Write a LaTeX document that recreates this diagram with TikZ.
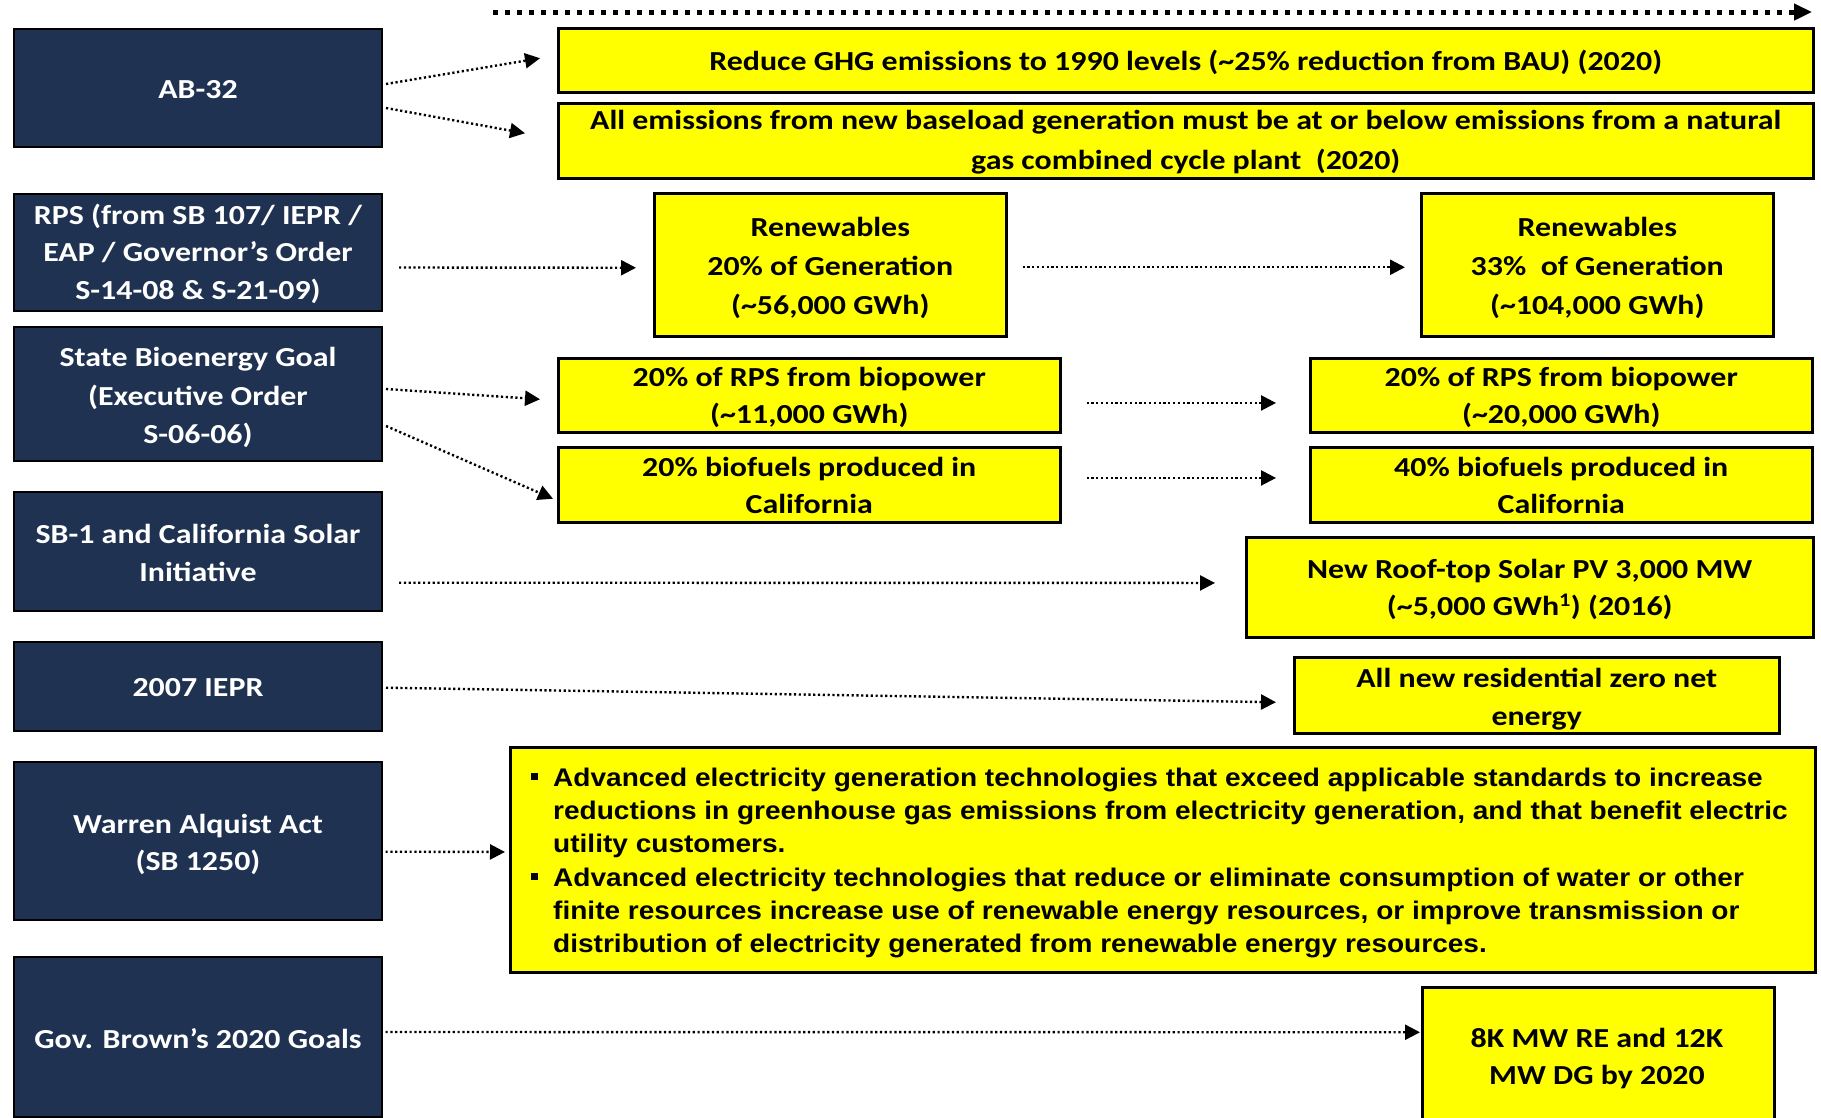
\documentclass[tikz,border=0pt]{standalone}
\usepackage{fontspec}
\usetikzlibrary{arrows.meta,calc}
\newfontfamily\calfont{Carlito}[FakeStretch=1.16]
\newfontfamily\arfont{Liberation Sans}[FakeStretch=1.1]
\definecolor{navy}{HTML}{1F3251}
\definecolor{ylw}{HTML}{FFFF00}
\newcommand\bulsq{\makebox[22pt][l]{\rule[6.5pt]{6.5pt}{6.5pt}}}
\tikzset{
  darkbox/.style={draw=black, line width=2pt, fill=navy, anchor=north west,
    inner sep=0pt, minimum width=368pt},
  ybox/.style={draw=black, line width=2.5pt, fill=ylw, anchor=north west, inner sep=0pt},
  dtext/.style={text=white, align=center, inner sep=0pt,
    font=\calfont\bfseries\fontsize{27.5}{37.7}\selectfont},
  ytext/.style={text=black, align=center, inner sep=0pt,
    font=\calfont\bfseries\fontsize{27.5}{38.5}\selectfont},
  arr/.style={line width=2.4pt, dash pattern=on 2.2pt off 2.6pt, -{Triangle[length=15pt,width=15pt]}},
  tlarr/.style={line width=5pt, dash pattern=on 5pt off 7pt, -{Triangle[length=18pt,width=16pt]}}
}
\begin{document}
\begin{tikzpicture}[x=1pt,y=-1pt]
\useasboundingbox (0,0) rectangle (1821,1117);
\clip (0,0) rectangle (1821,1117);
\fill[white] (0,0) rectangle (1821,1117);
% left column
\node[darkbox, minimum height=118pt] (ab) at (13,28) {};
\node[dtext] (abt) at ($(ab.center)+(0,1.2)$) {AB-32};
\node[darkbox, minimum height=117pt] (rps) at (13,193) {};
\node[dtext] (rpst) at ($(rps.center)+(0,1.2)$) {RPS (from SB 107/ IEPR /\\EAP / Governor’s Order\\S-14-08 \& S-21-09)};
\node[darkbox, minimum height=134pt] (bio) at (13,326) {};
\node[dtext, font=\calfont\bfseries\fontsize{27.5}{38.3}\selectfont] (biot) at ($(bio.center)+(0,3.5)$) {State Bioenergy Goal\\(Executive Order\\S-06-06)};
\node[darkbox, minimum height=119pt] (sb) at (13,491) {};
\node[dtext] (sbt) at ($(sb.center)+(0,1.7)$) {SB-1 and California Solar\\Initiative};
\node[darkbox, minimum height=89pt] (iepr) at (13,641) {};
\node[dtext] (ieprt) at ($(iepr.center)+(0,1.2)$) {2007 IEPR};
\node[darkbox, minimum height=158pt] (war) at (13,761) {};
\node[dtext] (wart) at ($(war.center)+(0,3.5)$) {Warren Alquist Act\\(SB 1250)};
\node[darkbox, minimum height=160pt] (gov) at (13,956) {};
\node[dtext] (govt) at ($(gov.center)+(0,1.2)$) {Gov. Brown’s 2020 Goals};
% yellow boxes
\node[ybox, minimum width=1255pt, minimum height=64pt] (ghg) at (557,27) {};
\node[ytext] (ghgt) at ($(ghg.center)+(0,2.3)$) {Reduce GHG emissions to 1990 levels (\textasciitilde25\% reduction from BAU) (2020)};
\node[ybox, minimum width=1255pt, minimum height=75pt] (base) at (557,102) {};
\node[ytext, font=\calfont\bfseries\fontsize{27.5}{40}\selectfont] (baset) at ($(base.center)+(0,1.7)$) {All emissions from new baseload generation must be at or below emissions from a natural\\gas combined cycle plant\ \ (2020)};
\node[ybox, minimum width=352pt, minimum height=143pt] (ren20) at (653,192) {};
\node[ytext, font=\calfont\bfseries\fontsize{27.5}{39}\selectfont] (ren20t) at ($(ren20.center)+(0,3.5)$) {Renewables\\20\% of Generation\\(\textasciitilde56,000 GWh)};
\node[ybox, minimum width=352pt, minimum height=143pt] (ren33) at (1420,192) {};
\node[ytext, font=\calfont\bfseries\fontsize{27.5}{39}\selectfont] (ren33t) at ($(ren33.center)+(0,3.5)$) {Renewables\\33\%\ \ of Generation\\(\textasciitilde104,000 GWh)};
\node[ybox, minimum width=502pt, minimum height=74pt] (bpa) at (557,357) {};
\node[ytext, font=\calfont\bfseries\fontsize{27.5}{37}\selectfont] (bpat) at ($(bpa.center)+(0,2.3)$) {20\% of RPS from biopower\\(\textasciitilde11,000 GWh)};
\node[ybox, minimum width=502pt, minimum height=74pt] (bpb) at (1309,357) {};
\node[ytext, font=\calfont\bfseries\fontsize{27.5}{37}\selectfont] (bpbt) at ($(bpb.center)+(0,2.3)$) {20\% of RPS from biopower\\(\textasciitilde20,000 GWh)};
\node[ybox, minimum width=502pt, minimum height=75pt] (bfa) at (557,446) {};
\node[ytext, font=\calfont\bfseries\fontsize{27.5}{37.5}\selectfont] (bfat) at ($(bfa.center)+(0,0.6)$) {20\% biofuels produced in\\California};
\node[ybox, minimum width=502pt, minimum height=75pt] (bfb) at (1309,446) {};
\node[ytext, font=\calfont\bfseries\fontsize{27.5}{37.5}\selectfont] (bfbt) at ($(bfb.center)+(0,0.6)$) {40\% biofuels produced in\\California};
\node[ybox, minimum width=567pt, minimum height=100pt] (sol) at (1245,536) {};
\node[ytext, font=\calfont\bfseries\fontsize{27.5}{37.5}\selectfont] (solt) at ($(sol.center)+(0,2.3)$) {New Roof-top Solar PV 3,000 MW\\(\textasciitilde5,000 GWh\textsuperscript{1}) (2016)};
\node[ybox, minimum width=485pt, minimum height=76pt] (zne) at (1293,656) {};
\node[ytext, font=\calfont\bfseries\fontsize{27.5}{38.5}\selectfont] (znet) at ($(zne.center)+(0,4)$) {All new residential zero net\\energy};
\node[ybox, minimum width=1305pt, minimum height=225pt] (adv) at (509,746) {};
\node[anchor=west, align=left, inner sep=0pt, font=\arfont\bfseries\fontsize{25.5}{33.3}\selectfont] (advtext) at ($(adv.west)+(22,3.2)$)
 {\bulsq Advanced electricity generation technologies that exceed applicable standards to increase\\
  \hspace*{22pt}reductions in greenhouse gas emissions from electricity generation, and that benefit electric\\
  \hspace*{22pt}utility customers.\\
  \bulsq Advanced electricity technologies that reduce or eliminate consumption of water or other\\
  \hspace*{22pt}finite resources increase use of renewable energy resources, or improve transmission or\\
  \hspace*{22pt}distribution of electricity generated from renewable energy resources.};
\node[ybox, minimum width=352pt, minimum height=140pt] (goals) at (1421,986) {};
\node[ytext, font=\calfont\bfseries\fontsize{27.5}{37}\selectfont] (goalstext) at (1597,1058) {8K MW RE and 12K\\MW DG by 2020};
% timeline
\coordinate (tl1) at (493,12);
\coordinate (tl2) at (1812,12);
\draw[tlarr] (tl1) -- (tl2);
% connectors
\draw[arr] ($(ab.east)+(3,-4)$) -- ($(ghg.west)+(-17,-2)$);
\draw[arr] ($(ab.east)+(3,20)$) -- ($(base.west)+(-32,-7.5)$);
\draw[arr] ($(rps.east)+(16,15)$) -- ($(ren20.west)+(-17,3)$);
\draw[arr] ($(ren20.east)+(15,2.5)$) -- ($(ren33.west)+(-15,2.5)$);
\draw[arr] ($(bio.east)+(3,-5)$) -- ($(bpa.west)+(-17,4)$);
\draw[arr] ($(bio.east)+(3,32)$) -- ($(bfa.west)+(-4,14)$);
\draw[arr] ($(bpa.east)+(25,7.7)$) -- ($(bpb.west)+(-33,7.7)$);
\draw[arr] ($(bfa.east)+(25,-6.8)$) -- ($(bfb.west)+(-33,-6.8)$);
\draw[arr] ($(sb.east)+(16,31.2)$) -- ($(sol.west)+(-30,-4.3)$);
\draw[arr] ($(iepr.east)+(3,1.2)$) -- ($(zne.west)+(-17,7)$);
\draw[arr] ($(war.east)+(2.5,10.7)$) -- ($(adv.west)+(-4,-7.8)$);
\draw[arr] ($(gov.east)+(2.5,-5)$) -- ($(goals.west)+(-1,-25)$);
\end{tikzpicture}
\end{document}
